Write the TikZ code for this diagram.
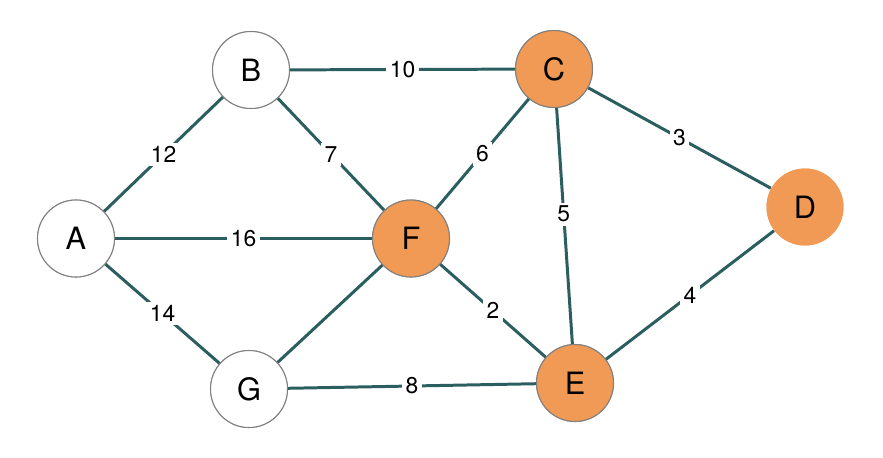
\documentclass[tikz,border=0pt]{standalone}
\usepackage{fontspec}
\setmainfont{TeX Gyre Heros}
\definecolor{edgeteal}{HTML}{2B5E5E}
\definecolor{visited}{HTML}{F09A55}
\tikzset{
  vertex/.style={circle, draw=gray, line width=0.6pt, fill=white, minimum size=1.54cm, inner sep=0pt, font=\fontsize{17.5}{17.5}\selectfont},
  done/.style={vertex, fill=visited},
  edge/.style={draw=edgeteal, line width=1.7pt},
  weight/.style={midway, fill=white, inner sep=2pt, font=\fontsize{13}{13}\selectfont}
}
\begin{document}
\begin{tikzpicture}[x=0.02cm, y=-0.02cm]
        \useasboundingbox (0,0) rectangle (883,457);

        % Vertices of the graph
        \node[vertex] (A) at (76, 238.5)  {A};   % Left
        \node[vertex] (B) at (251, 70)  {B};     % Top-left
        \node[done]   (C) at (554, 69)  {C};     % Top-right
        \node[done, draw=none] (D) at (805, 207) {D}; % Right
        \node[done]   (E) at (575, 383) {E};     % Bottom-right
        \node[done]   (F) at (411, 238.5) {F};   % Center
        \node[vertex] (G) at (249, 389) {G};     % Bottom-left

        % Weighted edges
        \draw[edge] (A) -- (B) node[weight] {12};
        \draw[edge] (A) -- (F) node[weight] {16};
        \draw[edge] (A) -- (G) node[weight] {14};
        \draw[edge] (B) -- (C) node[weight] {10};
        \draw[edge] (B) -- (F) node[weight] {7};
        \draw[edge] (F) -- (C) node[weight] {6};
        \draw[edge] (C) -- (D) node[weight] {3};
        \draw[edge] (C) -- (E) node[weight, pos=0.45] {5};
        \draw[edge] (F) -- (E) node[weight] {2};
        \draw[edge] (G) -- (F);
        \draw[edge] (G) -- (E) node[weight] {8};
        \draw[edge] (E) -- (D) node[weight] {4};

        % Redraw vertices on top of the edges
        \node[vertex] at (A) {A};
        \node[vertex] at (B) {B};
        \node[done] at (C) {C};
        \node[done, draw=none] at (D) {D};
        \node[done] at (E) {E};
        \node[done] at (F) {F};
        \node[vertex] at (G) {G};

\end{tikzpicture}
\end{document}
